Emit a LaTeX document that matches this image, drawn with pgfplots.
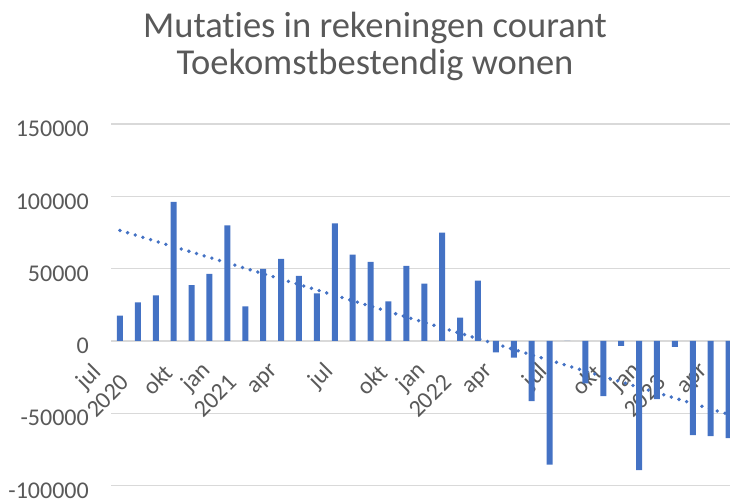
\documentclass[border=0pt]{standalone}
\usepackage{fontspec}
\setmainfont{Carlito}[Ligatures={NoCommon}]
\usepackage{pgfplots}
\pgfplotsset{compat=1.18}
\definecolor{barblue}{HTML}{4472C4}
\definecolor{txtgray}{HTML}{595959}
\definecolor{gridgray}{HTML}{D9D9D9}
\begin{document}
\begin{tikzpicture}
\useasboundingbox (0pt,0pt) rectangle (730pt,498pt);
\node[anchor=base, font=\fontsize{36.5}{42}\selectfont, text=txtgray, inner sep=0pt] at (375pt,460.7pt) {Mutaties in rekeningen courant};
\node[anchor=base, font=\fontsize{36.5}{42}\selectfont, text=txtgray, inner sep=0pt] at (375pt,423pt) {Toekomstbestendig wonen};
\begin{axis}[
  at={(111pt,12.5pt)}, anchor=south west,
  scale only axis, width=619pt, height=361.5pt,
  xmin=0.5, xmax=35.08, ymin=-100000, ymax=150000,
  ytick={-100000,-50000,0,50000,100000,150000},
  xtick={1,4,7,10,13,16,19,22,25,28,31,34},
  xticklabels={{jul\\2020},okt,{jan\\2021},apr,jul,okt,{jan\\2022},apr,jul,okt,{jan\\2023},apr},
  ymajorgrids, major grid style={draw=gridgray, line width=1.3pt},
  axis line style={draw=none},
  major tick length=0pt,
  scaled y ticks=false,
  /pgf/number format/assume math mode=true,
  yticklabel style={/pgf/number format/fixed, /pgf/number format/1000 sep={},
    font=\fontsize{24}{28}\selectfont, text=txtgray, anchor=east, inner sep=0pt, xshift=-22pt, yshift=-5pt},
  xticklabel style={yshift=117pt, xshift=-5pt, rotate=45, anchor=east, align=center,
    font=\fontsize{24}{28}\selectfont, text=txtgray, inner sep=0pt},
  clip=true,
]
\addplot[ybar, bar width=6pt, fill=barblue, draw=none] coordinates {
(1,17500) (2,26600) (3,31500) (4,96200) (5,38600) (6,46300) (7,79900)
(8,23800) (9,49800) (10,56800) (11,44900) (12,32900) (13,81300) (14,59600)
(15,54700) (16,27300) (17,51900) (18,39600) (19,74900) (20,16100) (21,41700)
(22,-8000) (23,-11500) (24,-41700) (25,-85500) (26,0) (27,-29300) (28,-38200)
(29,-3500) (30,-89400) (31,-40300) (32,-4200) (33,-65200) (34,-65900) (35,-67300)
};
\addplot[barblue, line width=3.8pt, line cap=round, dash pattern=on 0pt off 8pt, mark=none] coordinates {(1,76400) (35,-50800)};
\end{axis}
\end{tikzpicture}
\end{document}
